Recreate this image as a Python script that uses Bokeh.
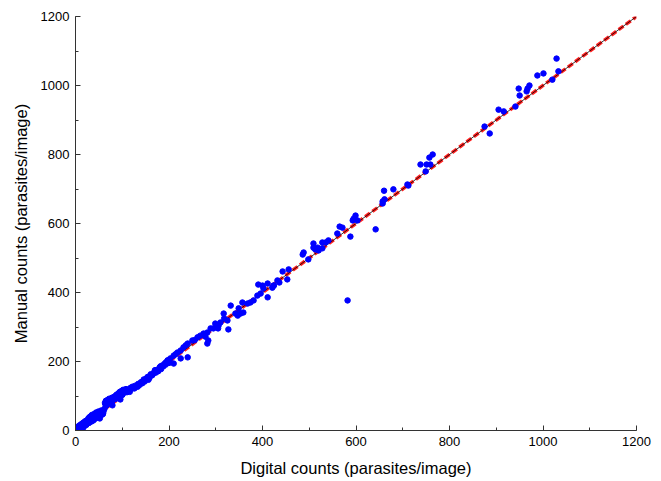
from bokeh.plotting import figure
from bokeh.models import Range1d, SingleIntervalTicker
from bokeh.embed import file_html
from bokeh.resources import INLINE

digital = [
    2, 3, 5, 6, 8, 9, 10, 12, 13, 15, 16, 18, 19, 20, 22, 24, 25, 27, 28, 30, 31, 33, 35, 36, 38, 40, 42, 44, 45, 47, 49, 50, 52, 53, 55, 57, 58, 60,
    62, 63, 65, 66, 68, 70, 72, 73, 75, 77, 78, 80, 82, 84, 85, 87, 88, 90, 92, 94, 95, 97, 99, 100, 102, 104, 106, 108, 110, 112, 115, 118, 120,
    123, 126, 128, 131, 134, 137, 140, 143, 146, 148, 151, 154, 156, 159, 161, 164, 167, 169, 172, 175, 177, 180, 183, 185, 188, 190, 193, 195, 197, 200,
    188, 193, 197, 203, 225, 240, 210, 218, 225, 231,
    240, 250, 284, 282, 261, 267, 274, 282, 289, 295,
    327, 299, 306, 310, 325, 317, 210,
    342, 347, 353, 359, 332, 349, 357, 368, 374, 381, 389, 396, 411, 402, 391, 400, 411, 424, 432,
    421, 424, 436, 453, 443, 456, 498, 486, 488, 528, 520, 513, 518, 509, 509, 528, 535, 541, 588, 560, 571, 565, 593, 603, 595, 599, 582,
    642, 657, 657, 661, 660, 680, 712, 710, 749, 738, 751, 759, 757, 764,
    875, 886, 905, 916, 941, 950, 948, 965, 967, 971, 988, 1001, 1020, 1029, 1033,
    4, 11, 17, 23, 29, 34, 41, 48, 54, 59, 64, 69, 74, 79, 86, 91, 96, 103, 109, 116, 122, 133, 145, 158, 170, 182, 214, 236, 255, 278, 305, 318,
]
manual = [
    3, 8, 2, 12, 5, 15, 10, 18, 7, 14, 22, 12, 25, 17, 28, 20, 30, 24, 36, 27, 40, 32, 45, 38, 29, 48, 41, 52, 37, 44, 55, 46, 35, 50, 58, 51, 47, 56,
    63, 80, 86, 72, 88, 84, 92, 78, 90, 82, 95, 88, 97, 91, 100, 94, 104, 98, 108, 101, 112, 106, 115, 103, 118, 110, 113, 120, 111, 118, 116, 124, 121,
    125, 122, 130, 128, 135, 132, 140, 137, 148, 142, 150, 155, 147, 158, 163, 160, 165, 171, 168, 176, 172, 183, 178, 188, 186, 193, 191, 198, 203, 196,
    188, 197, 203, 209, 209, 212, 217, 226, 232, 241,
    252, 261, 261, 252, 270, 275, 281, 284, 296, 296,
    293, 310, 304, 313, 319, 339, 194,
    339, 333, 339, 342, 362, 354, 371, 368, 371, 377, 391, 397, 386, 412, 423, 420, 426, 420, 435,
    414, 420, 429, 438, 461, 467, 496, 510, 516, 528, 522, 525, 530, 530, 542, 545, 545, 551, 562, 571, 588, 591, 609, 609, 614, 623, 377,
    583, 658, 664, 670, 695, 699, 710, 713, 751, 771, 771, 771, 791, 800,
    881, 861, 930, 925, 939, 971, 991, 983, 991, 1000, 1029, 1035, 1017, 1078, 1041,
    1, 4, 9, 16, 22, 26, 33, 39, 43, 49, 76, 81, 85, 73, 92, 96, 90, 109, 114, 112, 127, 127, 143, 152, 175, 186, 221, 247, 262, 272, 296, 325,
]

line_x = [0, 1200]
identity_y = [0, 1200]
fit_y = [0, 1200]

FONT = "Liberation Sans"

p = figure(width=661, height=481, output_backend="svg", toolbar_location=None,
           x_range=Range1d(0, 1200), y_range=Range1d(0, 1200),
           min_border_left=75, min_border_right=25, min_border_top=16, min_border_bottom=51)
p.outline_line_color = None
p.xgrid.visible = False
p.ygrid.visible = False
p.background_fill_color = "white"
p.border_fill_color = "white"

p.line(line_x, fit_y, line_color="#ff2020", line_width=3.5, line_dash="6 3")
p.line(line_x, identity_y, line_color="black", line_width=0.8)
p.scatter(digital, manual, size=5.5, fill_color="#0000ff", line_color="#0000ff", marker="circle")

for ax in (p.xaxis[0], p.yaxis[0]):
    ax.ticker = SingleIntervalTicker(interval=200, num_minor_ticks=2)
    ax.major_tick_in = 5
    ax.major_tick_out = 0
    ax.minor_tick_in = 3
    ax.minor_tick_out = 0
    ax.axis_line_color = "#333333"
    ax.major_tick_line_color = "#333333"
    ax.minor_tick_line_color = "#333333"
    ax.major_label_text_font = FONT
    ax.major_label_text_font_size = "13px"
    ax.major_label_text_color = "black"
    ax.axis_label_text_font = FONT
    ax.axis_label_text_font_size = "16.5px"
    ax.axis_label_text_font_style = "normal"
    ax.axis_label_text_color = "black"
    ax.major_label_standoff = 6

p.xaxis.axis_label = "Digital counts (parasites/image)"
p.yaxis.axis_label = "Manual counts (parasites/image)"
p.xaxis.axis_label_standoff = 10
p.yaxis.axis_label_standoff = 8

open("out.html", "w").write(file_html(p, INLINE))
